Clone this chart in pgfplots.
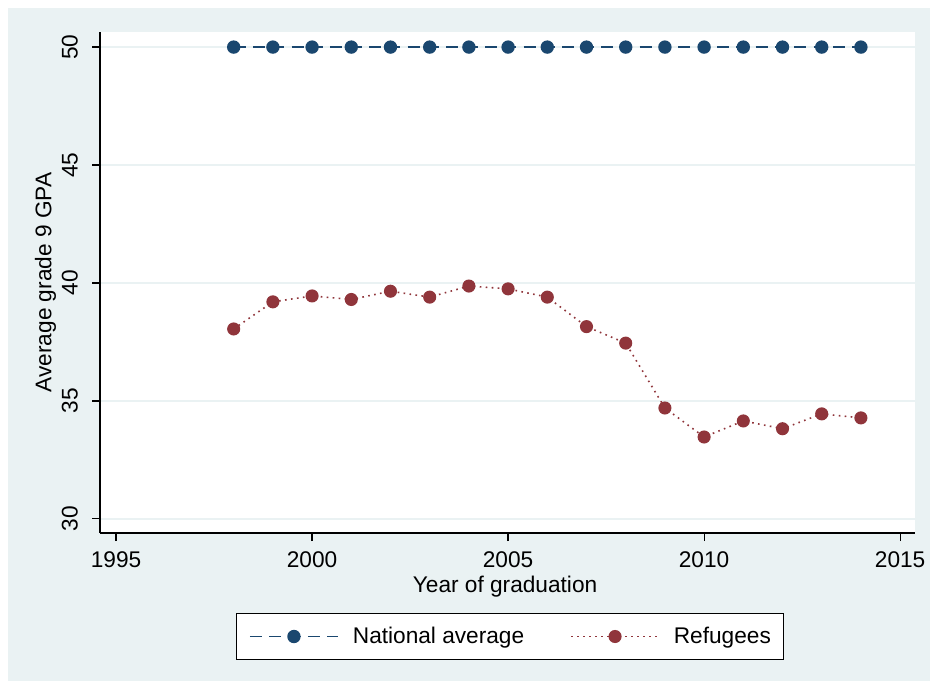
\documentclass[border=0pt]{standalone}
\usepackage{pgfplots}
\pgfplotsset{compat=1.18}
\usepackage{pgfplotstable}
\usepackage{fontspec}
\setmainfont{Liberation Sans}

\definecolor{stbg}{RGB}{234,242,243}
\definecolor{stnavy}{RGB}{26,71,111}
\definecolor{stmaroon}{RGB}{144,53,59}

% Average grade 9 GPA by year of graduation
\pgfplotstableread{
year national refugees
1998 50 38.05
1999 50 39.20
2000 50 39.45
2001 50 39.30
2002 50 39.65
2003 50 39.40
2004 50 39.87
2005 50 39.75
2006 50 39.40
2007 50 38.15
2008 50 37.45
2009 50 34.70
2010 50 33.47
2011 50 34.15
2012 50 33.82
2013 50 34.45
2014 50 34.28
}\gpadata

\newcommand{\chartfont}{\fontsize{17}{20}\selectfont}

\begin{document}
\begin{tikzpicture}
  \path[fill=white] (0pt,0pt) rectangle (697.5pt,510.75pt);
  \path[fill=stbg] (6pt,0pt) rectangle (697.5pt,504.75pt);
  \begin{axis}[
    at={(75pt,111pt)}, anchor=south west,
    scale only axis, width=611.25pt, height=375.75pt,
    xmin=1994.59, xmax=2015.38, ymin=29.4, ymax=50.64,
    axis x line*=bottom, axis y line*=left,
    axis line style={black, line width=0.9pt, -},
    axis background/.style={fill=white},
    xtick={1995,2000,2005,2010,2015},
    ytick={30,35,40,45,50},
    tick align=outside, major tick length=6pt,
    tick style={black, line width=0.9pt},
    ymajorgrids, grid style={stbg, line width=1.5pt},
    /pgf/number format/assume math mode=true,
    /pgf/number format/1000 sep={},
    tick label style={font=\chartfont},
    xticklabel style={yshift=-4.5pt},
    yticklabel style={xshift=-7pt, rotate=90, anchor=south},
    label style={font=\chartfont},
    xlabel={Year of graduation},
    ylabel={Average grade 9 GPA},
    xlabel style={at={(axis description cs:0.497,-0.108)}, anchor=center},
    ylabel style={at={(axis description cs:-0.067,0.5)}, anchor=center},
    legend columns=2,
    legend cell align=left,
    legend image code/.code={\draw[mark repeat=2,mark phase=2] plot coordinates {(0pt,0pt) (33pt,0pt) (66pt,0pt)};},
    legend style={at={(0.503,-0.2066)}, anchor=center,
      draw=black, line width=0.8pt, fill=white, font=\chartfont,
      inner xsep=9.5pt, inner ysep=10.5pt,
      nodes={inner sep=0pt},
      /tikz/every odd column/.append style={column sep=10.5pt},
      /tikz/every even column/.append style={column sep=34.5pt}},
  ]
    \addplot[stnavy, line width=1.4pt, dash pattern=on 9pt off 5.5pt,
      mark=*, mark size=4.3pt, mark options={solid, fill=stnavy, draw=stnavy}]
      table[x=year, y=national] {\gpadata};
    \addlegendentry{National average}
    \addplot[stmaroon, line width=1.2pt, dash pattern=on 1.2pt off 3.3pt,
      mark=*, mark size=4.3pt, mark options={solid, fill=stmaroon, draw=stmaroon}]
      table[x=year, y=refugees] {\gpadata};
    \addlegendentry{Refugees}
  \end{axis}
\end{tikzpicture}
\end{document}
